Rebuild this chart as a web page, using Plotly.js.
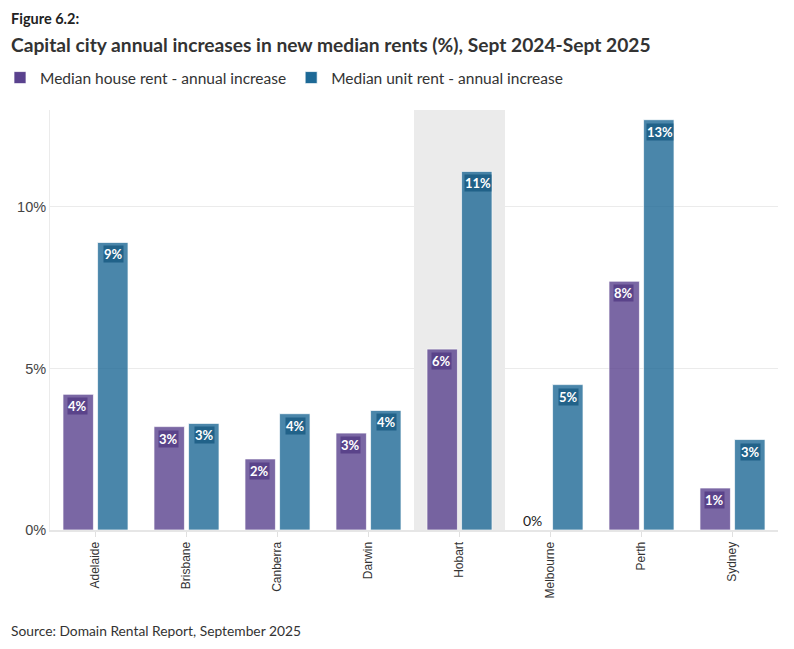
<!DOCTYPE html>
<html>
<head>
<meta charset="utf-8">
<script src="https://cdn.plot.ly/plotly-3.0.1.min.js"></script>
<style>
html,body{margin:0;padding:0;background:#fff;}
#chart{width:794px;height:649px;}
</style>
</head>
<body>
<div id="chart"></div>
<script>
const cities = ["Adelaide","Brisbane","Canberra","Darwin","Hobart","Melbourne","Perth","Sydney"];
const houseRent = [4.2, 3.2, 2.2, 3.0, 5.6, 0, 7.7, 1.3];
const unitRent = [8.9, 3.3, 3.6, 3.7, 11.1, 4.5, 12.7, 2.8];
const highlightCity = "Hobart";
const seriesNames = ["Median house rent - annual increase", "Median unit rent - annual increase"];
const yTickVals = [0, 5, 10];
const yTickText = ["0%", "5%", "10%"];

const FONT = "Lato,'Noto Sans',sans-serif";
const TICKFONT = "'Liberation Sans',Arial,sans-serif";
const houseColor = "#5a428e";
const unitColor = "#1d6996";

const traces = [
  {type:"bar", name:seriesNames[0], x:cities, y:houseRent,
   marker:{color:houseColor, opacity:0.8, line:{color:"rgba(255,255,255,0.7)", width:1}},
   hoverinfo:"skip"},
  {type:"bar", name:seriesNames[1], x:cities, y:unitRent,
   marker:{color:unitColor, opacity:0.8, line:{color:"rgba(255,255,255,0.7)", width:1}},
   hoverinfo:"skip"}
];

const annotations = [];
function addLabels(vals, shift, bg) {
  vals.forEach((v, i) => {
    const txt = Math.round(v) + "%";
    if (v === 0) {
      annotations.push({x:cities[i], y:0, xref:"x", yref:"y", xshift:shift, yanchor:"bottom", yshift:-1,
        text:txt, showarrow:false, font:{family:FONT, size:14, color:"#222"}});
    } else {
      annotations.push({x:cities[i], y:v, xref:"x", yref:"y", xshift:shift, yanchor:"top", yshift:-3,
        text:"<b>"+txt+"</b>", showarrow:false, bgcolor:bg, borderpad:0,
        font:{family:FONT, size:13, color:"#fff"}});
    }
  });
}
addLabels(houseRent, -18, "rgba(80,55,130,0.75)");
addLabels(unitRent, 18, "rgba(20,85,125,0.75)");

annotations.push({xref:"paper", yref:"paper", x:-0.056, y:1.219, xanchor:"left", yanchor:"middle",
  text:"<b>Figure 6.2:</b>", showarrow:false, font:{family:FONT, size:14.5, color:"#222"}});
annotations.push({xref:"paper", yref:"paper", x:-0.056, y:1.155, xanchor:"left", yanchor:"middle",
  text:"<b>Capital city annual increases in new median rents (%), Sept 2024-Sept 2025</b>", showarrow:false,
  font:{family:FONT, size:19.2, color:"#333"}});
annotations.push({xref:"paper", yref:"paper", x:-0.056, y:-0.240, xanchor:"left", yanchor:"middle",
  text:"Source: Domain Rental Report, September 2025", showarrow:false,
  font:{family:FONT, size:13.8, color:"#333"}});

const layout = {
  width:794, height:649,
  margin:{l:50, r:16, t:110, b:119, autoexpand:false},
  paper_bgcolor:"#fff", plot_bgcolor:"#fff",
  font:{family:FONT, color:"#333"},
  barmode:"group", bargap:0.24, bargroupgap:0.12,
  showlegend:true,
  legend:{orientation:"h", xref:"container", yref:"container", x:0, y:1-78/649, xanchor:"left", yanchor:"middle",
    font:{family:FONT, size:15.5, color:"#333"}, itemwidth:30, traceorder:"normal", tracegroupgap:0},
  xaxis:{type:"category", tickangle:-90, tickfont:{family:TICKFONT, size:12, color:"#333"},
    showline:true, linecolor:"#e6e6e6", linewidth:2, ticks:"outside", ticklen:5, tickcolor:"#e0e0e0",
    showgrid:false, fixedrange:true, automargin:false},
  yaxis:{range:[0,13], tickvals:yTickVals, ticktext:yTickText,
    tickfont:{family:TICKFONT, size:14.5, color:"#444"},
    showgrid:true, gridcolor:"#ebebeb", gridwidth:1, zeroline:false,
    showline:true, linecolor:"#ebebeb", linewidth:1, ticks:"", fixedrange:true, automargin:false},
  shapes:[{type:"rect", xref:"x", yref:"paper",
    x0:cities.indexOf(highlightCity)-0.5, x1:cities.indexOf(highlightCity)+0.5,
    y0:0, y1:1, fillcolor:"#ebebeb", line:{width:0}, layer:"below"}],
  annotations:annotations
};

Plotly.newPlot("chart", traces, layout, {displayModeBar:false, staticPlot:true});
</script>
</body>
</html>
